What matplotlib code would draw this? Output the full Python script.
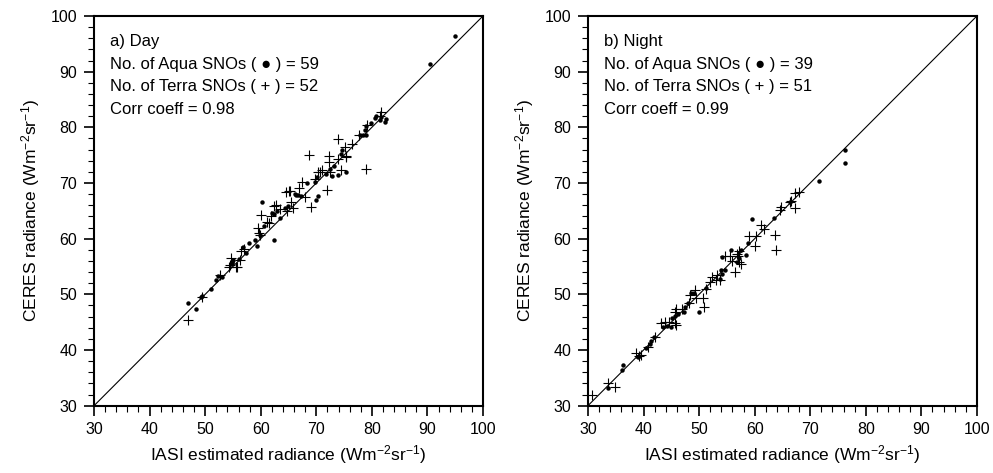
import matplotlib
matplotlib.use('Agg')
import matplotlib.pyplot as plt
from matplotlib.ticker import MultipleLocator

plt.rcParams['font.family'] = ['Liberation Sans', 'DejaVu Sans']
plt.rcParams['mathtext.fontset'] = 'custom'
plt.rcParams['mathtext.rm'] = 'Liberation Sans'
plt.rcParams['mathtext.default'] = 'regular'

# a) Day
day_aqua_x = [46.9, 48.3, 49.4, 49.2, 51.1, 51.9, 52.3, 53.0, 54.6, 54.8, 55.0, 54.9, 56.0, 56.8, 57.4,
              57.9, 59.0, 59.4, 59.8, 60.6, 60.3, 62.3, 62.1, 62.3, 62.9, 63.5, 64.3, 64.9, 66.3, 66.1,
              66.7, 67.2, 68.3, 69.8, 70.1, 70.3, 70.0, 71.8, 72.5, 72.8, 73.1, 73.9, 74.5, 74.7, 75.3,
              77.8, 78.4, 79.0, 78.7, 79.0, 79.8, 80.5, 80.8, 81.4, 81.7, 82.3, 82.6, 90.5, 95.0]
day_aqua_y = [48.5, 47.4, 49.7, 49.5, 51.0, 52.5, 53.3, 53.2, 55.4, 55.8, 56.2, 55.6, 56.4, 58.5, 57.4,
              59.2, 59.8, 58.6, 60.7, 62.2, 66.6, 59.8, 64.7, 64.4, 65.0, 63.8, 65.5, 65.9, 67.8, 68.0,
              67.8, 67.6, 70.0, 70.1, 71.0, 67.7, 67.0, 71.7, 72.5, 71.3, 73.1, 71.4, 75.2, 75.9, 71.9,
              78.6, 78.7, 78.7, 79.5, 80.3, 80.7, 81.7, 82.1, 81.3, 81.9, 80.9, 81.5, 91.3, 96.4]
day_terra_x = [46.9, 49.5, 52.6, 54.7, 54.3, 55.6, 56.2, 56.5, 59.5, 59.8, 60.0, 61.5, 62.7, 61.9,
               64.7, 65.4, 65.8, 64.5, 62.4, 65.2, 67.5, 67.9, 68.7, 69.1, 69.7, 70.6, 71.9, 72.3,
               72.3, 72.5, 73.9, 73.9, 75.1, 75.3, 74.5, 78.9, 77.7, 79.2, 81.7, 81.5, 59.6, 75.4,
               65.0, 70.3, 55.8, 54.5, 57.0, 61.2, 63.5, 66.8, 76.5, 71.0]
day_terra_y = [45.4, 49.6, 53.5, 56.5, 55.0, 54.9, 56.2, 57.8, 62.0, 60.7, 64.3, 62.8, 66.1, 64.1,
               65.0, 66.5, 65.5, 68.4, 65.9, 68.6, 70.1, 67.5, 75.0, 65.7, 70.8, 72.0, 68.7, 74.9,
               73.8, 71.9, 77.9, 74.4, 76.5, 74.7, 72.3, 72.6, 78.7, 80.5, 82.8, 82.0, 61.0, 74.9,
               68.6, 72.0, 55.0, 55.3, 58.2, 63.0, 65.3, 69.1, 77.0, 72.4]

# b) Night
night_aqua_x = [33.6, 36.2, 36.3, 39.0, 39.2, 40.4, 41.1, 41.4, 41.9, 43.5, 44.2, 44.9, 45.1, 45.6,
                46.2, 47.3, 47.4, 48.0, 48.5, 49.0, 50.0, 51.3, 53.7, 54.0, 54.2, 54.7, 54.2, 55.8,
                56.8, 57.1, 57.6, 58.4, 58.8, 59.6, 63.4, 66.4, 71.5, 76.2, 76.3]
night_aqua_y = [33.1, 36.4, 37.3, 38.7, 38.9, 40.3, 41.1, 41.6, 42.4, 44.2, 44.3, 44.1, 45.7, 46.1,
                46.5, 46.9, 47.8, 48.4, 50.2, 50.3, 46.9, 51.2, 52.7, 54.3, 53.7, 54.4, 56.7, 57.9,
                55.8, 56.6, 57.9, 57.0, 59.2, 63.5, 63.7, 66.6, 70.4, 73.6, 75.9]
night_terra_x = [30.7, 33.6, 34.8, 38.7, 39.1, 39.5, 40.8, 43.2, 43.8, 45.6, 45.7, 45.9, 45.9, 48.1,
                 48.3, 49.2, 49.5, 50.7, 50.8, 51.3, 52.4, 53.1, 53.8, 54.6, 55.5, 56.4, 57.0, 57.2,
                 57.2, 57.5, 58.9, 60.0, 61.2, 61.6, 63.6, 63.9, 64.5, 64.8, 66.3, 66.6, 67.2, 67.2,
                 68.0, 47.0, 52.0, 55.9, 42.0, 44.6, 53.3, 60.3, 56.9]
night_terra_y = [31.9, 34.0, 33.4, 39.4, 38.9, 39.1, 40.6, 44.8, 45.0, 44.8, 46.9, 44.5, 47.3, 48.4,
                 49.9, 50.7, 49.3, 49.3, 47.8, 50.9, 53.2, 52.6, 52.6, 56.8, 56.8, 54.1, 56.8, 57.7,
                 55.9, 55.5, 60.5, 58.6, 62.5, 61.7, 60.7, 58.0, 65.2, 65.6, 66.6, 66.8, 65.5, 68.2,
                 68.4, 47.4, 52.3, 56.0, 42.4, 45.1, 53.5, 60.5, 57.3]

panels = [
    (day_aqua_x, day_aqua_y, day_terra_x, day_terra_y,
     ['a) Day', 'No. of Aqua SNOs ( \u25cf ) = 59', 'No. of Terra SNOs ( + ) = 52', 'Corr coeff = 0.98']),
    (night_aqua_x, night_aqua_y, night_terra_x, night_terra_y,
     ['b) Night', 'No. of Aqua SNOs ( \u25cf ) = 39', 'No. of Terra SNOs ( + ) = 51', 'Corr coeff = 0.99']),
]

fig = plt.figure(figsize=(9.93, 4.73), dpi=100)
lefts = [0.0947, 0.5921]

for left, (ax_, ay_, tx_, ty_, lines) in zip(lefts, panels):
    ax = fig.add_axes([left, 0.1423, 0.3917, 0.8239])
    ax.plot([30, 100], [30, 100], color='black', lw=0.8)
    ax.plot(tx_, ty_, '+', color='black', ms=7.5, mew=0.8)
    ax.plot(ax_, ay_, 'o', color='black', ms=3.2, mew=0)
    ax.set_xlim(30, 100)
    ax.set_ylim(30, 100)
    ax.xaxis.set_major_locator(MultipleLocator(10))
    ax.yaxis.set_major_locator(MultipleLocator(10))
    ax.xaxis.set_minor_locator(MultipleLocator(2))
    ax.yaxis.set_minor_locator(MultipleLocator(2))
    ax.tick_params(which='major', direction='out', length=7, width=1.2, labelsize=11.5, pad=5,
                   top=False, right=False)
    ax.tick_params(which='minor', direction='out', length=4, width=0.8, top=False, right=False)
    for s in ax.spines.values():
        s.set_linewidth(1.5)
    ax.set_xlabel('IASI estimated radiance (Wm$^{-2}$sr$^{-1}$)', fontsize=12.5, labelpad=4)
    ax.set_ylabel('CERES radiance (Wm$^{-2}$sr$^{-1}$)', fontsize=12.5, labelpad=6)
    for i, t in enumerate(lines):
        ax.text(0.04, 0.935 - i * 0.0585, t, transform=ax.transAxes, fontsize=12,
                va='center', ha='left')

fig.savefig('out.png', dpi=100)
